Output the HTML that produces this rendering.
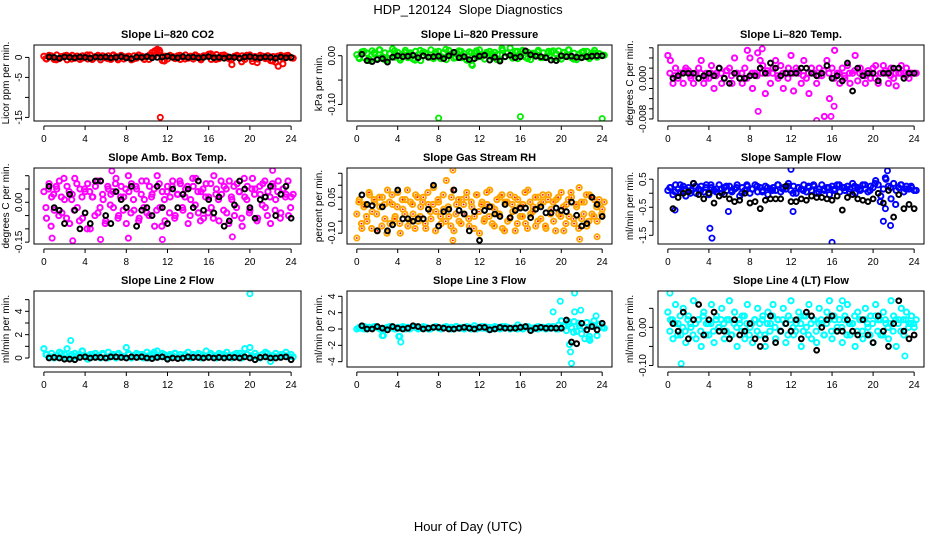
<!DOCTYPE html>
<html><head><meta charset="utf-8">
<style>
html,body{margin:0;padding:0;background:#fff;}
svg{display:block;font-family:"Liberation Sans",sans-serif;}
</style></head>
<body>
<svg id="chart" width="936" height="540" viewBox="0 0 936 540" xmlns="http://www.w3.org/2000/svg">
<text x="468" y="14" font-size="13" text-anchor="middle">HDP_120124&#160; Slope Diagnostics</text>
<text x="468" y="531" font-size="13" text-anchor="middle">Hour of Day (UTC)</text>
</svg>
<script>
const xTicks=[0,4,8,12,16,20,24];
// CO2
const co2A=[0.3,-0.4,0.5,0.2,-0.5,0.6,-0.3,0.1,0.4,-0.6,0.2,0.5,-0.2,0.3,-0.5,0.4,0.1,-0.4,0.6,-0.3,0.2,0.5,-0.6,0.3,-0.1,0.4,-0.5,0.6,0.2,-0.3,0.5,-0.4,0.1,0.3,-0.6,0.4,-0.2,0.5,0.3,-0.5,0.2,0.6,1.2,1.6,2.0,1.4,-0.8,0.3,-0.4,0.5,0.2,-0.3,0.4,-0.5,0.1,0.6,-0.2,0.3,-0.4,0.5,0.2,-0.6,0.4,0.3,0.8,-0.5,0.2,0.7,-0.3,0.5,0.6,0.1,-0.4,-1.8,0.3,0.5,-0.2,0.4,-0.5,0.3,0.6,-1.0,0.2,-0.4,0.5,0.3,-0.3,0.4,-0.8,0.2,-1.2,-2.2,0.5,-0.3,0.4,0.2,-0.1];
const co2B=[-0.3,0.4,-0.6,0.2,0.5,-0.4,0.3,-0.2,0.6,-0.5,0.1,0.4,-0.3,0.5,-0.6,0.2,0.3,-0.4,0.6,0.1,-0.5,0.4,1.8,-0.9,0.3,-0.2,0.5,-0.4,0.2,0.6,-0.3,0.4,0.9,-0.5,0.2,0.3,-0.6,0.4,-1.1,0.5,-0.3,-1.3,0.2,0.4,-0.9,0.3,-1.6,0.5,-0.2];
const co2K=[0.1,0,-0.2,0.1,0,-0.1,0.1,0,-0.2,0.1,0,0.1,-0.1,0,0.2,-0.1,-0.3,0.1,0,0.2,-0.1,0,0.1,0.3,0,-0.1,0.2,0,0.1,-0.1,0,0.2,-0.1,0,-0.2,0.1,0,-0.2,0.1,0.2,0,-0.1,0.1,0,-0.2,0.1,-0.1,0];
const co2Out=[[11.3,-15.0]];
// Pressure
const pA=[0.002,-0.006,0.008,-0.004,0.005,-0.010,0.010,0.003,-0.005,0.012,-0.002,0.006,-0.008,0.004,0.014,-0.003,0.007,-0.009,0.003,0.011,-0.004,0.006,-0.007,0.009,0.002,-0.010,0.008,0.005,-0.003,0.012,-0.006,0.004,0.009,-0.002,0.006,-0.008,0.011,0.003,-0.005,0.007,0.010,-0.004,0.004,-0.009,0.008,-0.018,0.006,-0.003,0.012,0.002,-0.007,0.005,0.009,-0.004,0.007,0.003,-0.008,0.011,-0.002,0.006,0.016,-0.005,0.009,-0.006,0.004,0.010,-0.003,0.007,-0.008,0.005,0.003,0.011,-0.004,0.006,-0.002,0.009,0.008,-0.005,0.004,0.010,-0.007,0.006,0.002,0.012,-0.004,0.005,-0.008,0.003,0.007,-0.002,0.009,-0.006,0.005,0.011,-0.003,0.004,0.001];
const pB=[-0.004,0.009,-0.007,0.006,0.012,-0.008,0.004,0.010,-0.005,0.007,0.002,-0.009,0.011,0.005,-0.003,0.008,-0.006,0.013,0.003,-0.004,0.009,-0.007,0.006,0.010,-0.002,0.007,0.004,-0.008,0.015,0.005,-0.003,0.009,0.011,-0.006,0.004,0.008,-0.004,0.006,0.010,-0.005,0.007,0.012,-0.007,0.003,0.009,-0.002,0.006,0.004,0.001];
const pK=[0.003,-0.010,-0.012,-0.008,-0.006,-0.013,-0.003,0,-0.002,-0.001,0.001,-0.004,0,-0.003,-0.002,-0.001,-0.006,0,0.007,-0.004,-0.002,-0.008,-0.006,-0.001,0.001,-0.009,-0.003,-0.011,-0.002,0.001,-0.004,-0.002,0.010,0.002,-0.001,-0.002,-0.004,-0.009,-0.010,0,-0.002,-0.001,-0.003,-0.004,-0.002,-0.001,0,0];
const pOut=[[8,-0.128],[16,-0.125],[24,-0.129],[11.3,-0.02]];
// Li-820 Temp
const tA=[0.0045,0.0035,-0.001,0.002,0,0.001,-0.001,0.002,0.0015,0,-0.001,0.001,0.002,0.0035,-0.001,0.001,0,0.0025,-0.002,0.001,0.002,-0.001,0,0.0015,0.002,-0.001,0.004,0.001,0,-0.001,0.002,0.0055,0.004,-0.002,0.001,0.005,0.0035,0.0025,-0.003,0.001,-0.001,0.002,0.0035,0,0.0025,-0.002,0.001,0.002,0.0045,-0.0025,0.002,0.001,-0.001,0.0035,0,-0.003,0.002,0.001,-0.001,0.002,0.0005,-0.0075,0.0035,-0.004,0.002,0.0055,0.001,-0.001,0.002,0,0.0025,-0.001,0.001,0.0045,-0.0005,0.002,0.001,-0.001,0.0015,0,0.002,0.0025,-0.001,0.001,0.0025,0.001,-0.001,0.002,0,-0.0015,0.001,0.0025,0.001,0.002,0,0.001,0.001];
const tB=[0.001,0.0005,0.001,0.0015,0.0005,0.001,0.001,0,0.001,0.0005,0.001,0.0015,0.0005,0.001,0.001,0,0.001,0.0005,0.001,0.0015,0.001,0.0005,0.001,0,0.001,0.0015,0.0005,0.001,0.001,0.0005,0.0015,0.001,0,0.001,0.0005,0.001,0.0015,0.001,0.0005,0.001,0,0.001,0.0015,0.0005,0.001,0.001,0.0005,0.001,0.001];
const tK=[0,0.0005,0.001,0.001,0.001,0,0.0005,0.001,0.0005,0.002,0,-0.001,0.001,0,0,0.0005,0.0005,0.002,0.001,0.003,0.002,0.0005,0.001,0.001,0.001,0.002,0.002,0.001,0.0005,0.001,0.0025,0,0.0005,-0.0005,0.003,-0.0025,0.002,0.0005,0.001,0.001,-0.0005,0.001,0.001,0.002,0.002,0,0.001,0.001];
const tOut=[[8.8,-0.0065],[14.5,-0.0083],[15.9,-0.0075],[9.2,0.0058],[16.2,-0.0055]];
// Amb box temp
const ambA=[0.04,-0.06,0.07,0.02,-0.03,0.05,0.08,-0.04,0.01,0.06,-0.08,0.03,0.09,-0.02,0.05,-0.06,0.04,0.07,-0.10,0.02,0.06,-0.04,0.08,0.01,-0.07,0.05,0.03,-0.02,0.09,-0.05,0.06,0.02,-0.08,0.04,0.07,-0.03,0.05,-0.06,0.08,0.01,-0.04,0.06,0.03,-0.09,0.10,-0.02,0.04,-0.07,0.06,0.02,0.08,-0.05,0.03,0.07,-0.03,0.05,-0.08,0.01,0.06,0.09,-0.04,0.04,-0.06,0.07,0.02,-0.02,0.10,0.05,-0.07,0.03,0.06,-0.04,0.08,0.01,-0.05,0.07,0.04,-0.09,0.02,0.06,-0.03,0.09,0.05,-0.06,0.03,0.07,-0.02,0.04,-0.08,0.06,0.01,0.08,-0.04,0.05,0.03,-0.05,0.02];
const ambB=[-0.02,0.05,-0.09,0.03,0.06,-0.05,0.02,0.09,-0.06,0.04,0.01,-0.03,0.07,-0.07,0.02,0.05,-0.10,0.04,0.02,-0.05,0.08,-0.02,0.03,-0.08,0.06,-0.01,0.04,0.07,-0.06,0.02,-0.03,0.05,0.10,-0.04,0.01,0.06,-0.07,0.03,-0.02,0.08,-0.05,0.02,0.05,-0.03,0.07,-0.09,0.01,0.04,-0.04,0.06,-0.06,0.03,0.08,-0.02,0.02,0.06,-0.05,0.09,-0.01,0.04,-0.07,0.05,0.02,-0.04,0.07,-0.06,0.03,0.01,0.08,-0.03,0.05,-0.08,0.02,0.06,-0.02,0.04,-0.06,0.09,0.01,-0.04,0.05,0.03,-0.07,0.06,-0.01,0.08,-0.05,0.02,0.07,-0.03,0.04,-0.06,0.05,0.02,0.08,-0.02,0.03];
const ambK=[0.06,-0.02,-0.03,-0.08,0.03,-0.03,-0.10,-0.04,-0.08,0.08,0.08,-0.05,-0.08,0.04,0.01,-0.02,0.06,-0.09,-0.03,-0.02,-0.05,0.06,-0.02,-0.08,0.05,-0.02,0.03,0.05,-0.02,0.08,-0.03,0.01,-0.04,0.02,-0.09,-0.07,-0.01,0.08,0.05,-0.02,-0.06,0.01,0.02,0.06,-0.05,0.03,0.06,-0.06];
const ambOut=[[0.8,-0.135],[2.8,-0.145],[5.5,-0.14],[11.5,-0.14],[6.6,0.118],[22.2,0.12],[18.3,-0.13],[8.2,-0.135]];
// Gas stream RH
const rhA=[-0.02,0.04,-0.08,0.02,-0.05,0.06,-0.01,0.03,-0.09,0.01,0.05,-0.04,0.08,-0.06,0.02,-0.03,0.07,-0.10,0.00,0.04,-0.07,0.03,-0.02,0.06,-0.05,0.01,0.05,-0.08,0.02,-0.04,0.09,-0.01,0.03,-0.06,0.00,0.12,-0.03,0.05,-0.09,0.02,-0.05,0.04,-0.02,0.07,-0.07,0.01,-0.03,0.06,-0.10,0.03,-0.04,0.02,0.08,-0.06,0.00,-0.02,0.05,-0.08,0.03,-0.05,0.06,-0.01,-0.09,0.04,-0.03,0.02,-0.06,0.08,-0.02,0.01,-0.07,0.05,-0.04,0.03,-0.08,0.06,0.00,-0.05,0.04,-0.02,0.07,-0.09,0.02,-0.03,0.05,-0.06,0.01,0.09,-0.04,0.03,-0.07,0.06,-0.02,0.04,-0.05,0.02,0.00];
const rhB=[0.03,-0.06,0.01,-0.03,0.07,-0.08,0.04,-0.02,0.05,-0.07,0.02,-0.10,0.03,0.06,-0.04,0.01,-0.06,0.04,-0.02,0.08,-0.05,0.02,-0.08,0.05,-0.03,0.03,-0.06,0.07,-0.01,0.02,-0.09,0.04,-0.03,0.06,-0.05,0.01,-0.07,0.08,-0.02,0.04,-0.06,0.02,0.05,-0.04,0.03,-0.08,0.06,-0.01,0.02,-0.05,0.07,-0.03,0.01,-0.07,0.04,-0.02,0.06,-0.09,0.03,-0.04,0.02,0.05,-0.06,0.01,-0.03,0.07,-0.08,0.03,-0.01,0.05,-0.05,0.02,0.06,-0.07,0.04,-0.02,0.03,-0.09,0.05,-0.03,0.01,-0.06,0.04,0.07,-0.04,0.02,-0.08,0.03,-0.02,0.06,-0.05,0.05,-0.03,0.01,0.04,-0.02,0.03];
const rhK=[0.06,0.02,0.015,-0.09,0.01,-0.09,-0.065,0.08,-0.04,-0.04,-0.05,-0.04,-0.04,0.00,0.10,-0.07,-0.01,0.00,0.08,-0.005,-0.02,-0.09,-0.01,-0.13,-0.005,0.01,-0.02,-0.03,0.02,-0.035,-0.005,0.005,0.005,-0.035,0.00,0.01,-0.015,-0.015,0.005,-0.005,-0.01,0.03,-0.025,-0.07,-0.06,0.05,0.02,-0.03];
const rhOut=[[9.4,0.163],[0,-0.12],[9.4,-0.13],[21.8,-0.125],[23.5,-0.115]];
// Sample flow
const sfA=[0.1,0.2,-0.05,0.3,0.15,0.05,0.25,-0.1,0.2,0.1,0.35,0.0,0.15,0.25,0.05,0.3,-0.05,0.2,0.1,0.15,0.3,0.0,0.2,0.1,0.25,0.05,0.15,0.3,-0.1,0.2,0.1,0.25,0.0,0.15,0.3,0.05,0.2,0.1,0.25,-0.05,0.15,0.2,0.1,0.3,0.05,0.2,0.15,0.35,0.1,0.25,0.0,0.2,0.15,0.3,0.05,0.2,0.1,0.25,0.0,0.15,0.3,0.1,0.2,-0.05,0.25,0.15,0.3,0.05,0.2,0.1,0.25,0.15,0.35,0.0,0.2,0.1,0.3,0.15,0.05,0.25,0.2,0.45,0.3,-0.1,0.15,0.5,0.25,-0.2,0.35,0.1,0.2,0.3,0.05,0.25,0.15,0.2,0.1];
const sfB=[0.2,0.05,0.3,0.15,0.0,0.25,0.1,0.2,0.3,0.05,0.15,0.25,0.1,0.2,0.0,0.3,0.15,0.25,0.05,0.2,0.1,0.3,0.15,0.25,0.0,0.2,0.1,0.25,0.3,0.05,0.15,0.2,0.1,0.3,0.2,0.05,0.25,0.15,0.3,0.1,0.35,-0.3,0.55,0.2,-0.4,0.3,0.15,0.25,0.1];
const sfK=[-0.55,-0.15,0.0,0.05,0.35,-0.05,-0.2,0.0,-0.35,-0.1,-0.05,-0.2,-0.3,-0.25,0.0,-0.35,-0.3,-0.55,-0.25,-0.2,-0.2,-0.2,0.25,-0.3,-0.3,-0.2,-0.25,-0.1,-0.15,-0.15,-0.2,-0.25,-0.1,-0.6,-0.15,-0.05,-0.2,-0.25,-0.3,-0.2,0.0,-0.35,0.1,-0.85,-0.05,-0.55,-0.4,-0.55];
const sfOut=[[4.1,-1.25],[4.3,-1.6],[16,-1.75],[12,0.85],[21.4,0.8],[0.7,-0.6],[5.9,-0.65],[12.2,-0.65],[21,-1.0],[21.7,-1.15],[21.2,-0.55]];
// Line 2 flow
const l2A=[0.8,0.3,0.1,0.4,0.0,0.2,0.5,0.1,0.3,0.8,0.2,0.0,0.4,0.1,0.3,0.6,0.2,-0.1,0.3,0.1,0.4,0.2,0.0,0.3,0.1,0.5,0.2,0.3,0.0,0.4,0.2,0.1,0.9,0.3,0.0,0.2,0.4,0.1,0.3,0.2,0.5,0.0,0.3,0.1,0.6,0.2,0.4,0.1,0.0,0.3,0.2,0.4,0.1,0.3,0.0,0.2,0.5,0.1,0.3,0.2,0.4,0.0,0.2,0.6,0.1,0.3,0.2,0.0,0.4,0.1,0.3,0.5,0.2,0.0,0.3,0.1,0.4,0.2,0.8,0.3,0.9,0.1,0.4,0.2,0.0,0.3,0.5,0.1,-0.3,0.2,0.4,0.1,0.3,0.2,0.5,0.1,0.3];
const l2B=[0.3,0.1,0.2,0.4,0.0,0.3,0.2,0.6,0.1,0.3,0.2,0.4,0.0,0.2,0.3,0.1,0.4,0.2,0.3,0.0,0.2,0.5,0.1,0.3,0.2,0.4,0.1,0.3,0.0,0.2,0.3,0.1,0.4,0.2,0.3,0.1,0.2,0.4,0.0,0.3,0.2,0.1,0.3,0.4,0.2,0.1,0.3,0.2,0.1];
const l2K=[0,0.05,0,-0.1,-0.1,-0.15,0.05,0.1,0.0,0.05,0.05,0.0,0.1,0.1,0.05,0.0,0.1,0.05,0.1,0,-0.05,0.05,0.1,-0.1,0.0,-0.05,0.0,0.1,0.05,0.05,0.0,0.05,0.0,0.05,0.0,0.05,0.05,0.0,0.1,0.0,-0.15,0.05,0.1,0.0,0.0,0.05,0.1,-0.15];
const l2Out=[[20,5.5],[2.6,1.5]];
// Line 3 flow
const l3A=[0.0,0.2,0.1,0.3,0.0,0.2,0.1,0.3,0.2,0.0,-0.8,0.1,0.2,0.3,0.1,0.0,0.2,0.1,0.3,0.0,0.2,0.1,0.3,0.2,0.0,0.1,0.3,0.2,0.0,0.1,0.2,0.3,0.1,0.0,0.2,0.3,0.1,0.2,0.0,0.3,0.1,0.2,0.0,0.3,0.2,0.1,0.4,0.0,0.2,0.1,0.3,0.0,0.2,0.1,0.3,0.2,0.0,0.1,0.3,0.2,0.0,0.1,0.2,0.5,0.1,0.0,0.2,0.3,0.1,0.0,0.2,0.3,0.1,0.2,0.0,0.3,0.1,0.2,0.0,0.5,1.0,0.3,-0.2,0.6,0.2,0.9,-0.3,0.4,-0.6,0.2,0.8,-0.9,0.5,0.3,-0.8,0.6,0.2];
const l3B=[0.1,0.0,0.2,0.3,0.1,0.0,0.2,0.1,-0.9,0.2,0.0,0.3,0.1,0.2,0.0,0.3,0.1,0.2,0.0,0.3,0.1,0.2,0.0,0.1,0.3,0.2,0.0,0.1,0.3,0.2,0.1,0.0,0.2,0.3,0.1,0.0,0.2,0.1,0.3,0.0,0.4,0.9,-0.4,0.7,0.3,-1.2,1.0,0.5,0.1];
const l3K=[0.4,0.0,0.0,0.3,0.1,-0.1,0.3,0.1,0.0,0.1,0.4,0.3,0.0,0.1,0.2,0.2,0.1,0.0,0.0,0.1,0.2,0.1,0.0,0.2,0.2,-0.1,0.0,0.2,0.1,0.1,0.1,0.2,0.3,-0.2,0.1,0.2,0.1,0.1,0.1,0.1,1.1,-1.6,-1.8,0.7,-0.1,0.3,-0.1,0.7];
const l3Out=[[19.2,2.1],[19.9,3.4],[21.3,4.4],[21.9,2.3],[20.8,-1.9],[20.9,-2.8],[21,-4.2],[2.6,-0.8],[4.1,-0.9],[4.3,-1.6],[23.4,1.6],[22.3,-1.2],[22.8,-1.4],[21.3,2.1],[20,1.0]];
// Line 4 flow
const l4A=[0.04,0.02,-0.03,0.06,0.01,-0.02,0.05,-0.04,0.03,0.00,0.07,-0.03,0.02,-0.05,0.04,0.01,-0.02,0.06,-0.04,0.03,0.00,0.05,-0.03,0.02,0.07,-0.02,0.04,-0.05,0.01,0.03,-0.03,0.06,0.00,-0.04,0.02,0.05,-0.02,0.03,-0.05,0.04,0.01,0.06,-0.03,0.02,-0.01,0.05,-0.04,0.03,0.07,-0.02,0.01,0.04,-0.05,0.03,0.00,0.06,-0.03,0.02,-0.04,0.05,0.01,-0.02,0.04,0.07,-0.03,0.02,0.00,0.05,-0.04,0.03,0.06,-0.02,0.01,-0.05,0.04,0.02,-0.03,0.05,0.00,0.03,-0.04,0.06,0.02,-0.02,0.04,0.01,-0.03,0.07,0.03,-0.05,0.02,0.05,-0.02,0.04,0.01,0.03,0.00];
const l4B=[-0.01,0.02,0.01,-0.02,0.03,0.00,-0.01,0.02,0.01,-0.02,0.01,0.02,-0.01,0.03,-0.02,0.01,0.01,-0.01,0.02,0.00,0.02,0.01,-0.01,0.02,-0.02,0.01,0.00,0.02,-0.01,0.03,0.01,-0.02,0.01,0.02,-0.01,0.01,0.02,-0.02,0.01,-0.01,0.03,0.00,0.02,-0.01,0.02,0.01,-0.02,0.02,0.00,-0.01,0.02,0.01,-0.01,0.03,-0.02,0.01,0.02,-0.01,0.01,0.02,-0.02,0.01,0.02,-0.01,0.03,-0.01,0.02,0.00,0.02,-0.02,0.01,0.01,0.03,-0.01,0.02,-0.01,0.02,0.01,-0.02,0.01,0.03,-0.01,0.02,-0.02,0.02,0.00,0.01,-0.01,0.02,0.01,-0.01,0.02,0.02,0.00,0.01,0.01,0.02];
const l4K=[0.01,-0.01,0.04,-0.03,0.02,0.06,-0.02,0.02,0.04,-0.01,-0.01,-0.03,0.02,-0.02,-0.01,0.01,-0.03,-0.05,-0.03,0.03,-0.04,-0.01,0.01,-0.01,0.02,-0.03,0.04,0.03,-0.06,0.00,0.02,0.03,-0.01,-0.01,0.02,-0.01,-0.02,0.02,-0.02,-0.04,0.03,-0.01,-0.05,0.01,0.07,-0.01,-0.03,-0.02];
const l4Out=[[1.3,-0.095],[0.2,0.09],[17,0.07],[23.1,-0.075]];

const NS="http://www.w3.org/2000/svg";
const svg=document.getElementById('chart');
function mk(tag,attrs,parent){const e=document.createElementNS(NS,tag);for(const k in attrs)e.setAttribute(k,attrs[k]);(parent||svg).appendChild(e);return e;}

const panels=[
 {key:'co2',title:'Slope Li\u2013820 CO2',ylab:'Licor ppm per min.',box:[34,45,301,121],ylim:[-15.9,3.1],ticks:[0,-5,-10,-15],labels:['0','-5','','-15'],col:'#ff0000',A:co2A,B:co2B,K:co2K,O:co2Out},
 {key:'pressure',title:'Slope Li\u2013820 Pressure',ylab:'kPa per min.',box:[347,45,612,121],ylim:[-0.134,0.022],ticks:[0,-0.05,-0.1],labels:['0.00','','-0.10'],col:'#00ee00',A:pA,B:pB,K:pK,O:pOut},
 {key:'li820-temp',title:'Slope Li\u2013820 Temp.',ylab:'degrees C per min.',box:[658,45,924,121],ylim:[-0.0084,0.00655],ticks:[0.006,0.004,0.002,0,-0.002,-0.004,-0.006,-0.008],labels:['','','','0.000','','','','-0.008'],col:'#ff00ff',A:tA,B:tB,K:tK,O:tOut},
 {key:'amb-box-temp',title:'Slope Amb. Box Temp.',ylab:'degrees C per min.',box:[34,168,301,244],ylim:[-0.157,0.129],ticks:[0.1,0.05,0,-0.05,-0.1,-0.15],labels:['','','0.00','','','-0.15'],col:'#ff00ff',A:ambA,B:ambB,K:ambK,O:ambOut},
 {key:'gas-stream-rh',title:'Slope Gas Stream RH',ylab:'percent per min.',box:[347,168,612,244],ylim:[-0.145,0.172],ticks:[0.15,0.1,0.05,0,-0.05,-0.1],labels:['','','0.05','','','-0.10'],col:'#ffa500',A:rhA,B:rhB,K:rhK,O:rhOut,dot:'#ff0000'},
 {key:'sample-flow',title:'Slope Sample Flow',ylab:'ml/min per min.',box:[658,168,924,244],ylim:[-1.81,0.9],ticks:[0.5,0,-0.5,-1,-1.5],labels:['0.5','','-0.5','','-1.5'],col:'#0000ff',A:sfA,B:sfB,K:sfK,O:sfOut},
 {key:'line2-flow',title:'Slope Line 2 Flow',ylab:'ml/min per min.',box:[34,291,301,367],ylim:[-0.77,5.74],ticks:[5,4,3,2,1,0],labels:['','4','','2','','0'],col:'#00ffff',A:l2A,B:l2B,K:l2K,O:l2Out},
 {key:'line3-flow',title:'Slope Line 3 Flow',ylab:'ml/min per min.',box:[347,291,612,367],ylim:[-4.65,4.65],ticks:[4,2,0,-2,-4],labels:['4','2','0','-2','-4'],col:'#00ffff',A:l3A,B:l3B,K:l3K,O:l3Out},
 {key:'line4-flow',title:'Slope Line 4 (LT) Flow',ylab:'ml/min per min.',box:[658,291,924,367],ylim:[-0.104,0.0955],ticks:[0.05,0,-0.05,-0.1],labels:['','0.00','','-0.10'],col:'#00ffff',A:l4A,B:l4B,K:l4K,O:l4Out}
];

panels.forEach(p=>{
  const [x0,y0,x1,y1]=p.box;
  const g=mk('g',{});
  
  
  const xs=v=>x0+(v+0.96)/25.92*(x1-x0);
  const ys=v=>y1-(v-p.ylim[0])/(p.ylim[1]-p.ylim[0])*(y1-y0);
  const t=mk('text',{x:(x0+x1)/2,y:y0-7,'font-size':11,'font-weight':'bold','text-anchor':'middle'},g);
  t.textContent=p.title;
  
  
  const cl=mk('clipPath',{id:'clip-'+p.key},g);
  mk('rect',{x:x0,y:y0,width:x1-x0,height:y1-y0},cl);
  const pts=mk('g',{'clip-path':'url(#clip-'+p.key+')'},g);
  
  
  function dot(x,y,color,sw,r,inner){
    const c=mk('circle',{cx:xs(x),cy:ys(y),r:r,fill:'none',stroke:color,'stroke-width':sw},pts);
    
    
    if(inner){mk('circle',{cx:xs(x),cy:ys(y),r:0.9,fill:inner},pts);}
  }
  p.A.forEach((v,i)=>dot(i*24/(p.A.length-1),v,p.col,2,2.6,p.dot));
  p.B.forEach((v,i)=>dot(i*24/(p.B.length-1)+0.2,v,p.col,2,2.6,p.dot));
  p.O.forEach(o=>dot(o[0],o[1],p.col,1.8,2.6,p.dot));
  p.K.forEach((v,i)=>dot(0.5+i*23.5/(p.K.length-1),v,'#000',2,2.4,null));
  const fr=mk('rect',{x:x0,y:y0,width:x1-x0,height:y1-y0,fill:'none',stroke:'#000','stroke-width':1},g);
  
  
  const xa=mk('g',{},g);
  
  
  mk('line',{x1:xs(0),x2:xs(24),y1:y1+5,y2:y1+5,stroke:'#000'},xa);
  xTicks.forEach(v=>{
    mk('line',{x1:xs(v),x2:xs(v),y1:y1+5,y2:y1+9,stroke:'#000'},xa);
    const l=mk('text',{x:xs(v),y:y1+21,'font-size':10,'text-anchor':'middle'},xa);
    l.textContent=v;
  });
  const ya=mk('g',{},g);
  
  
  const tv=p.ticks;
  mk('line',{x1:x0-5,x2:x0-5,y1:ys(Math.max(...tv)),y2:ys(Math.min(...tv)),stroke:'#000'},ya);
  tv.forEach((v,i)=>{
    mk('line',{x1:x0-5,x2:x0-9,y1:ys(v),y2:ys(v),stroke:'#000'},ya);
    if(p.labels[i]){
      const l=mk('text',{x:0,y:0,'font-size':10,'text-anchor':'middle',transform:'translate('+(x0-12)+','+ys(v)+') rotate(-90)'},ya);
      l.textContent=p.labels[i];
    }
  });
  const yt=mk('text',{x:0,y:0,'font-size':10,'text-anchor':'middle',transform:'translate('+(x0-25)+','+((y0+y1)/2)+') rotate(-90)'},g);
  yt.textContent=p.ylab;
  
  
});
</script>
</body></html>
